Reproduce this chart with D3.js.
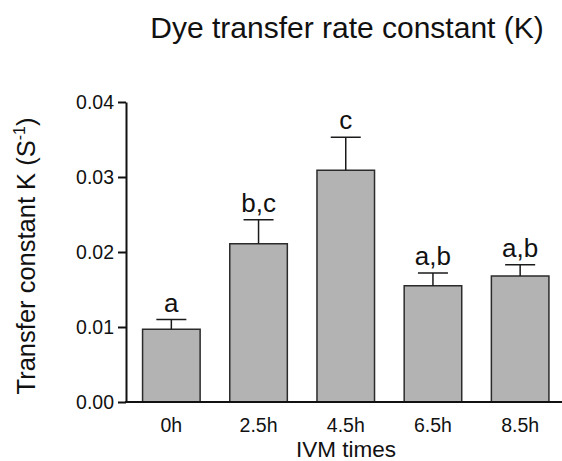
<!DOCTYPE html>
<html>
<head>
<meta charset="utf-8">
<script src="https://cdn.jsdelivr.net/npm/d3@7"></script>
<style>
 body { margin: 0; background: #fff; }
 svg { display: block; font-family: "Liberation Sans", Arial, sans-serif; }
</style>
</head>
<body>
<svg></svg>
<script>
// данные графика
const categories = ["0h", "2.5h", "4.5h", "6.5h", "8.5h"];
const values = [0.0097, 0.0211, 0.0309, 0.0155, 0.0168];
const errors = [0.0013, 0.0032, 0.0044, 0.0017, 0.0015];
const letters = ["a", "b,c", "c", "a,b", "a,b"];
const yTicks = [0, 0.01, 0.02, 0.03, 0.04];

const width = 562;
const height = 461;
let svg = d3.select("svg")
 .attr("width", width)
 .attr("height", height);

// шкалы
const x = d3.scaleBand()
 .domain(categories)
 .range([126, 565.5])
 .paddingInner(0.34)
 .paddingOuter(0.19);
const y = d3.scaleLinear()
 .domain([0, 0.04])
 .range([402, 102]);

// столбцы
svg.append("g")
 .selectAll("rect")
 .data(values)
 .join("rect")
 .attr("x", (d, i) => x(categories[i]))
 .attr("y", d => y(d))
 .attr("width", x.bandwidth())
 .attr("height", d => y(0) - y(d))
 .style("fill", "#b3b3b3")
 .style("stroke", "#2b2b2b")
 .style("stroke-width", 1.5);

// планки погрешностей (только вверх)
let err = svg.append("g")
 .style("stroke", "#1a1a1a")
 .style("stroke-width", 1.5);
values.forEach((v, i) => {
 let cx = x(categories[i]) + x.bandwidth() / 2;
 err.append("line")
 .attr("x1", cx).attr("x2", cx)
 .attr("y1", y(v)).attr("y2", y(v + errors[i]));
 err.append("line")
 .attr("x1", cx - 15).attr("x2", cx + 15)
 .attr("y1", y(v + errors[i])).attr("y2", y(v + errors[i]));
});

// буквы значимости
svg.append("g")
 .selectAll("text")
 .data(letters)
 .join("text")
 .attr("x", (d, i) => x(categories[i]) + x.bandwidth() / 2)
 .attr("y", (d, i) => y(values[i] + errors[i]) - 8)
 .attr("text-anchor", "middle")
 .style("font-size", "26px")
 .style("fill", "#111")
 .text(d => d);

// ось Y
let yAxis = svg.append("g")
 .attr("transform", "translate(126,0)")
 .call(d3.axisLeft(y)
 .tickValues(yTicks)
 .tickFormat(d3.format(".2f"))
 .tickSize(8)
 .tickSizeOuter(0)
 .tickPadding(4));
yAxis.selectAll("path, line")
 .style("stroke", "#111")
 .style("stroke-width", 2);
yAxis.selectAll("text")
 .style("font-size", "19.5px")
 .style("font-family", "'Liberation Sans', Arial, sans-serif")
 .style("fill", "#111");

// ось X
svg.append("line")
 .attr("x1", 125).attr("x2", width)
 .attr("y1", y(0)).attr("y2", y(0))
 .style("stroke", "#111")
 .style("stroke-width", 2);
let xAxis = svg.append("g")
 .attr("transform", `translate(0,${y(0)})`)
 .call(d3.axisBottom(x).tickSize(0).tickPadding(16));
xAxis.select(".domain").remove();
xAxis.selectAll("text")
 .style("font-size", "19.5px")
 .style("font-family", "'Liberation Sans', Arial, sans-serif")
 .style("fill", "#111");

// подписи
svg.append("text")
 .attr("x", 346)
 .attr("y", 457)
 .attr("text-anchor", "middle")
 .style("font-size", "22.5px")
 .style("fill", "#111")
 .text("IVM times");

let yLabel = svg.append("text")
 .attr("transform", "translate(35,256) rotate(-90)")
 .attr("text-anchor", "middle")
 .style("font-size", "25.5px")
 .style("fill", "#111");
yLabel.append("tspan").text("Transfer constant K (S");
yLabel.append("tspan")
 .attr("dy", -10)
 .style("font-size", "16px")
 .text("-1");
yLabel.append("tspan")
 .attr("dy", 10)
 .text(")");

svg.append("text")
 .attr("x", 347)
 .attr("y", 38)
 .attr("text-anchor", "middle")
 .style("font-size", "30px")
 .style("fill", "#111")
 .text("Dye transfer rate constant (K)");
</script>
</body>
</html>
